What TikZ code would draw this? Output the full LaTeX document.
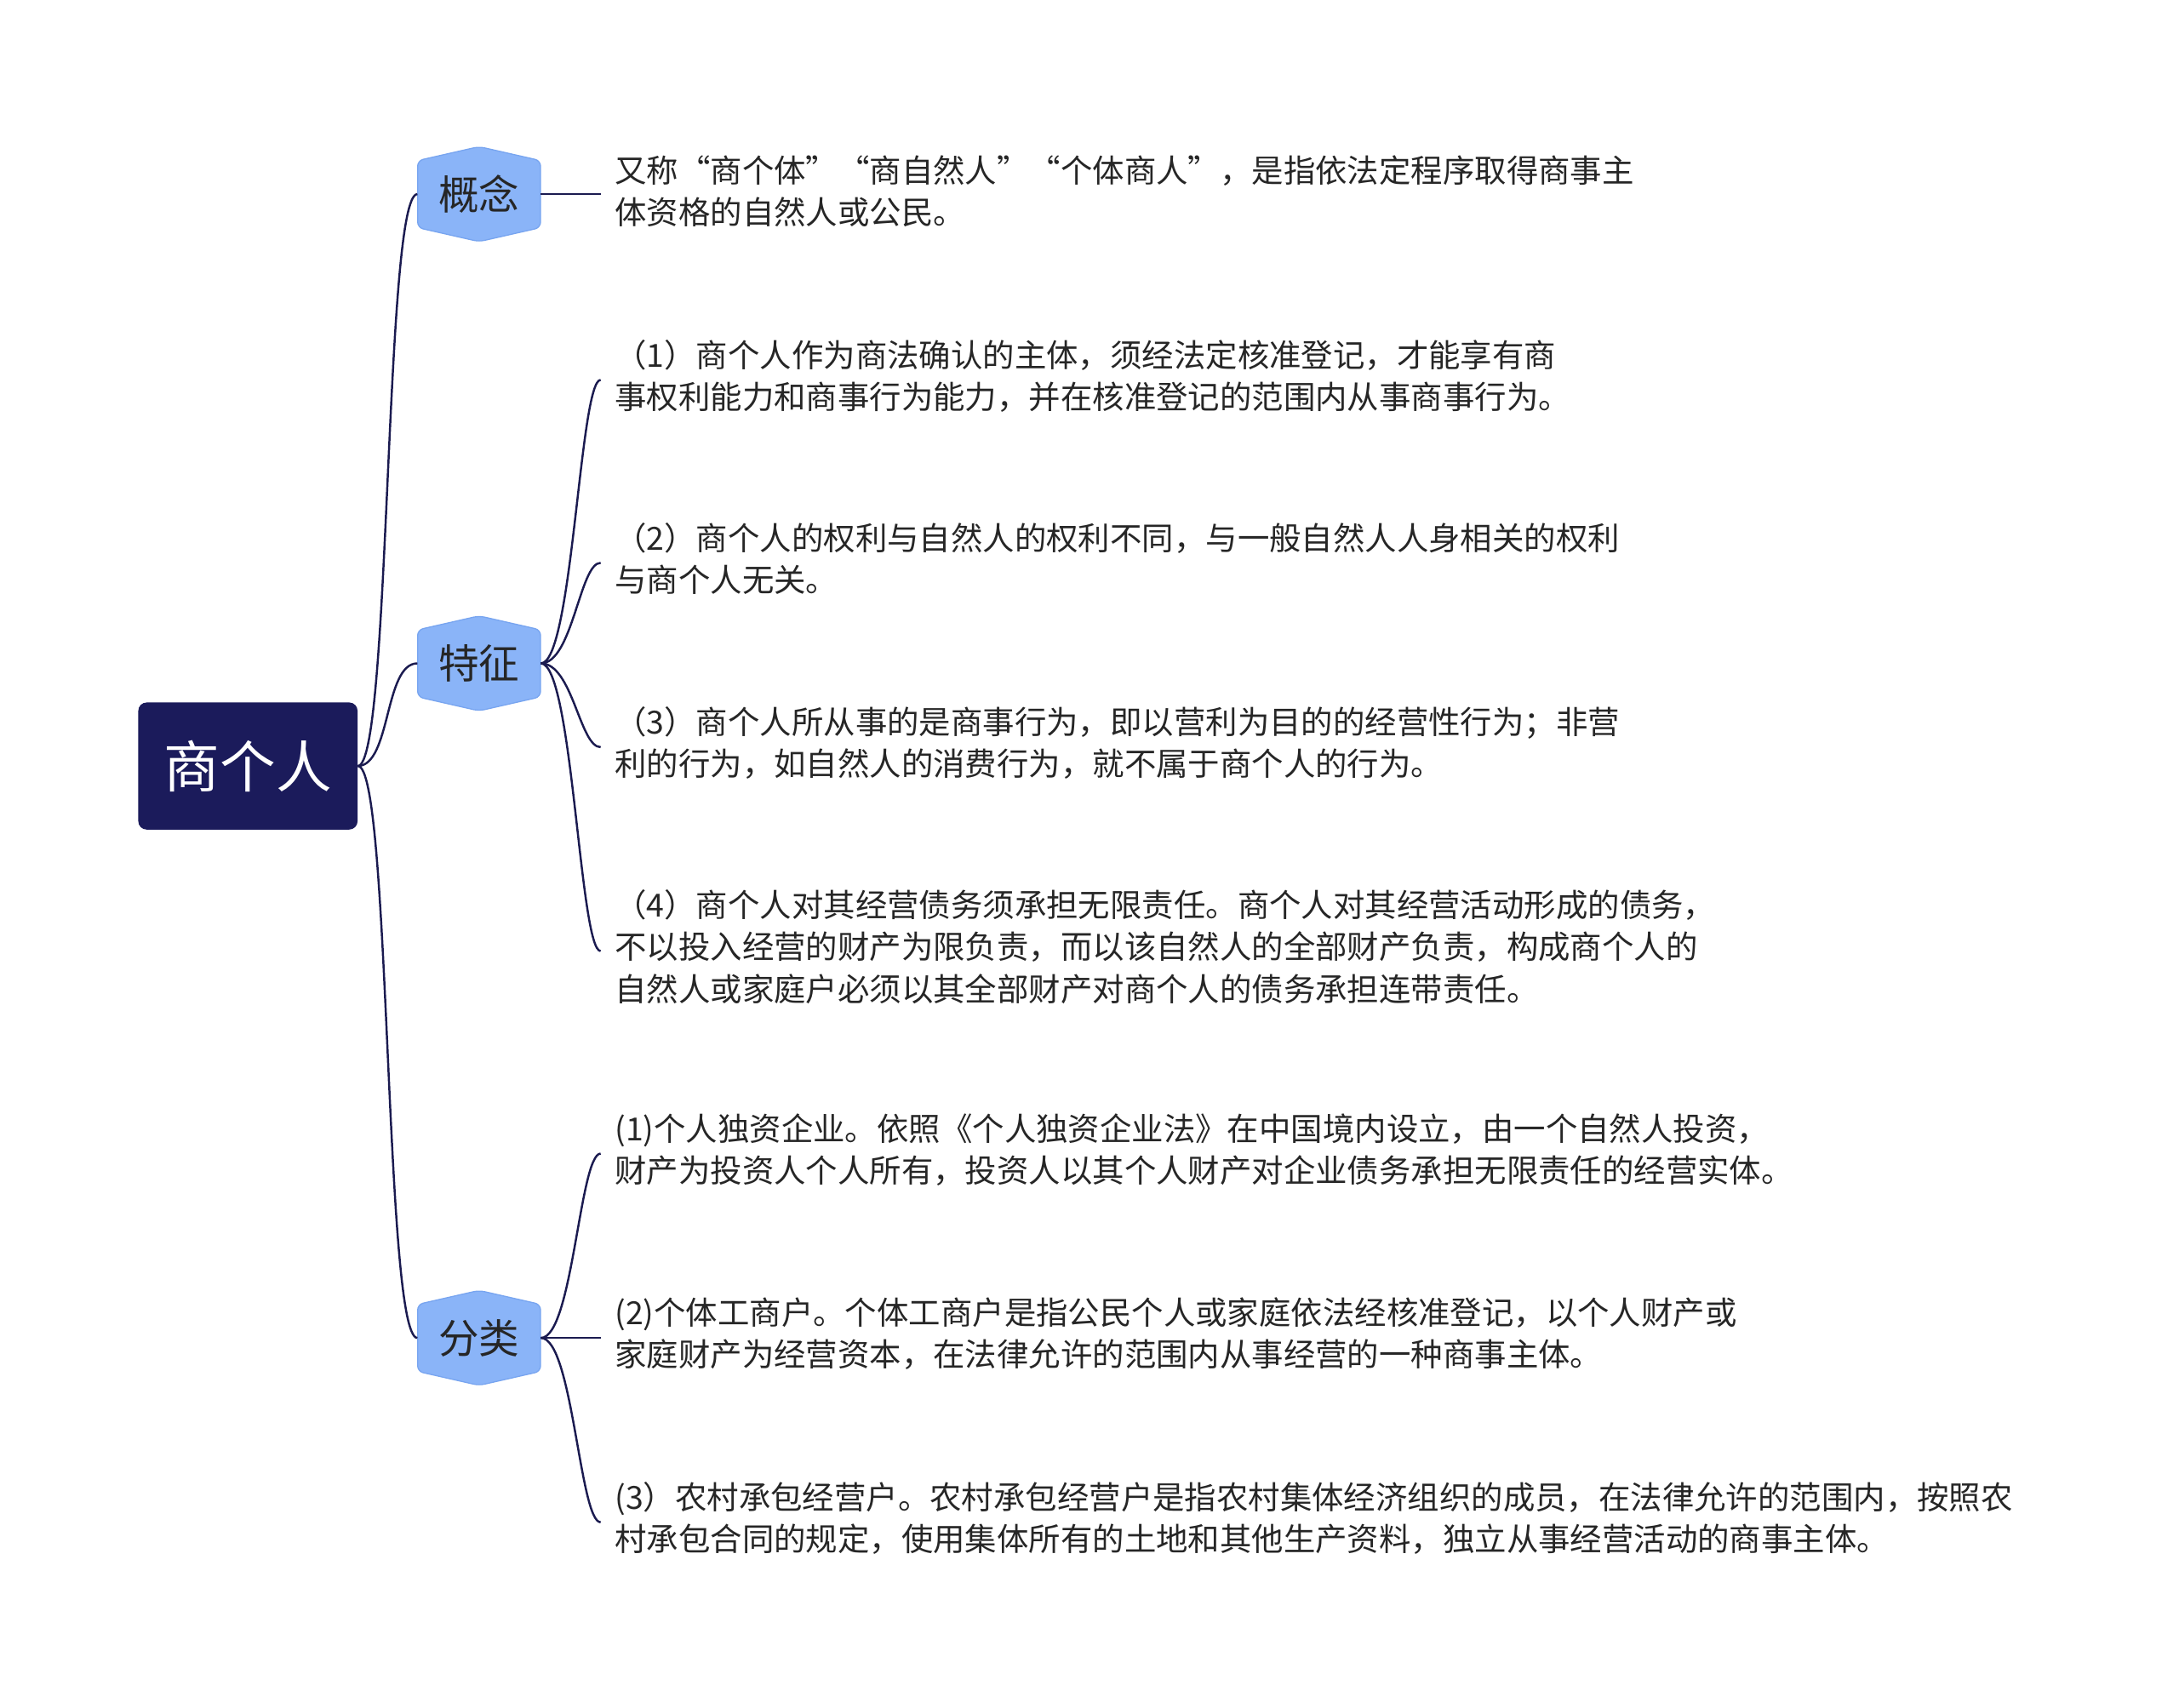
\documentclass[tikz,border=0pt]{standalone}
\usepackage{fontspec}
\setmainfont{Noto Sans CJK SC}
\begin{document}
\begin{tikzpicture}[x=1pt,y=-1pt,
  conn/.style={line width=1.5pt, color={rgb,255:red,27;green,27;blue,80}},
  txt/.style={anchor=north west, align=left, inner sep=0pt, text=black!85, font=\fontsize{22.8}{30}\selectfont},
  hexa/.style={fill={rgb,255:red,138;green,180;blue,248}, draw={rgb,255:red,120;green,165;blue,240}, line width=0.8pt, rounded corners=4pt}]
\path[use as bounding box, fill=white] (0,0) rectangle (1560,1223);
% root
\node[fill={rgb,255:red,27;green,27;blue,91}, rounded corners=6pt, minimum width=157, minimum height=91, text=white, font=\fontsize{40}{44}\selectfont, inner sep=0pt] (root) at (177.5,548.5) {商个人};
% hexagons
\foreach \n/\lab/\y in {h1/概念/139, h2/特征/475, h3/分类/958}{
  \path[hexa] (299,\y-24) -- (343,\y-34) -- (387,\y-24) -- (387,\y+24) -- (343,\y+34) -- (299,\y+24) -- cycle;
  \node[inner sep=0pt, minimum width=88, minimum height=68, font=\fontsize{29}{32}\selectfont, text=black!85] (\n) at (343,\y) {\lab};
}
% root to hexagons
\foreach \n in {h1,h2,h3}{
  \draw[conn] (root.east) .. controls (280,548) and (275,0|-\n.west) .. (\n.west);
}
% texts
\node[txt] (t1) at (440,111) {又称“商个体”“商自然人”“个体商人”，是指依法定程序取得商事主\\体资格的自然人或公民。};
\node[txt] (t2) at (440,243) {（1）商个人作为商法确认的主体，须经法定核准登记，才能享有商\\事权利能力和商事行为能力，并在核准登记的范围内从事商事行为。};
\node[txt] (t3) at (440,374) {（2）商个人的权利与自然人的权利不同，与一般自然人人身相关的权利\\与商个人无关。};
\node[txt] (t4) at (440,506) {（3）商个人所从事的是商事行为，即以营利为目的的经营性行为；非营\\利的行为，如自然人的消费行为，就不属于商个人的行为。};
\node[txt] (t5) at (440,637) {（4）商个人对其经营债务须承担无限责任。商个人对其经营活动形成的债务，\\不以投入经营的财产为限负责，而以该自然人的全部财产负责，构成商个人的\\自然人或家庭户必须以其全部财产对商个人的债务承担连带责任。};
\node[txt] (t6) at (440,797) {(1)个人独资企业。依照《个人独资企业法》在中国境内设立，由一个自然人投资，\\财产为投资人个人所有，投资人以其个人财产对企业债务承担无限责任的经营实体。};
\node[txt] (t7) at (440,929) {(2)个体工商户。个体工商户是指公民个人或家庭依法经核准登记，以个人财产或\\家庭财产为经营资本，在法律允许的范围内从事经营的一种商事主体。};
\node[txt] (t8) at (440,1061) {(3）农村承包经营户。农村承包经营户是指农村集体经济组织的成员，在法律允许的范围内，按照农\\村承包合同的规定，使用集体所有的土地和其他生产资料，独立从事经营活动的商事主体。};
% connectors
\coordinate (e1) at (430,139);
\draw[conn] (h1.east) -- (e1);
\foreach \t/\y in {t2/272, t3/403, t4/535, t5/681}{
  \coordinate (c\t) at (430,\y);
  \draw[conn] (h2.east) .. controls (410,475) and (415,\y) .. (c\t);
}
\foreach \t/\y in {t6/826, t7/958, t8/1090}{
  \coordinate (c\t) at (430,\y);
  \draw[conn] (h3.east) .. controls (410,958) and (415,\y) .. (c\t);
}
\end{tikzpicture}
\end{document}
